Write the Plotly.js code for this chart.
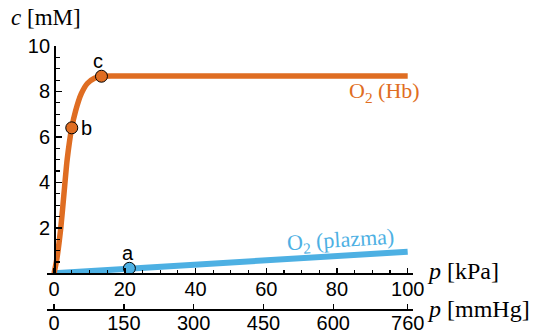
<!DOCTYPE html>
<html>
<head>
<meta charset="utf-8">
<script src="https://cdn.plot.ly/plotly-3.0.1.min.js"></script>
<style>html,body{margin:0;padding:0;background:#fff;}#chart{width:533px;height:332px;}</style>
</head>
<body>
<div id="chart"></div>
<script>
// ---- data ----
const hbP = [0, 0.75, 1.9, 2.8, 3.7, 5.0, 6.1, 7.7, 9.4, 11.4, 13.4, 17, 30, 60, 100];
const hbC = [0, 0.6, 2.0, 3.5, 5.0, 6.4, 7.15, 7.9, 8.35, 8.58, 8.67, 8.68, 8.68, 8.68, 8.68];
const plasmaP = [0, 100];
const plasmaC = [0, 0.95];
const pointLabels = ['a', 'b', 'c'];
const pointP = [21.3, 5.0, 13.4];
const pointC = [0.22, 6.4, 8.67];
const kPaTicks = [0, 20, 40, 60, 80, 100];
const mmHgTicks = [0, 150, 300, 450, 600, 760];
const cTicks = [0, 2, 4, 6, 8, 10];
const cTickText = ['', '2', '4', '6', '8', '10'];

const ORANGE = '#DF6D22';
const BLUE = '#4DB0E3';
const pointColors = [BLUE, ORANGE, ORANGE];

const xr = [-2, 101.5];
const traces = [
  {x: plasmaP, y: plasmaC, mode: 'lines', line: {color: BLUE, width: 6}, hoverinfo: 'skip', showlegend: false},
  {x: hbP, y: hbC, mode: 'lines', line: {color: ORANGE, width: 5.5, shape: 'spline', smoothing: 0.55}, hoverinfo: 'skip', showlegend: false},
  {x: pointP, y: pointC, mode: 'markers', marker: {size: 12, color: pointColors, line: {color: '#000', width: 1}}, hoverinfo: 'skip', showlegend: false},
  {x: mmHgTicks, y: mmHgTicks.map(() => null), xaxis: 'x2', mode: 'markers', hoverinfo: 'skip', showlegend: false}
];

const L = 47, W = 366, T = 46, H = 263;
const px = v => (v - L) / W;
const py = v => (T + H - v) / H;

const serif = 'Liberation Serif, Times New Roman, serif';
const annShifts = [[-1, 15], [15, 0], [-3, 15]];
const annotations = pointLabels.map((t, i) => ({
  x: pointP[i], y: pointC[i], xref: 'x', yref: 'y', text: t, showarrow: false,
  xshift: annShifts[i][0], yshift: annShifts[i][1],
  font: {family: 'Liberation Sans, Arial, sans-serif', size: 20, color: '#000'}
}));
annotations.push(
  {xref: 'paper', yref: 'paper', x: px(9), y: py(18), xanchor: 'left', yanchor: 'middle', text: '<i>c</i> [mM]', showarrow: false, font: {family: serif, size: 23, color: '#000'}},
  {xref: 'paper', yref: 'paper', x: px(425), y: py(271), xanchor: 'left', yanchor: 'middle', text: '<i>p</i> [kPa]', showarrow: false, font: {family: serif, size: 24, color: '#000'}},
  {xref: 'paper', yref: 'paper', x: px(425), y: py(309), xanchor: 'left', yanchor: 'middle', text: '<i>p</i> [mmHg]', showarrow: false, font: {family: serif, size: 24, color: '#000'}},
  {xref: 'paper', yref: 'paper', x: px(384), y: py(92), xanchor: 'center', yanchor: 'middle', text: 'O<sub>2</sub> (Hb)', showarrow: false, font: {family: serif, size: 22, color: ORANGE}},
  {xref: 'paper', yref: 'paper', x: px(340), y: py(241), xanchor: 'center', yanchor: 'middle', text: 'O<sub>2</sub> (plazma)', textangle: -3.5, showarrow: false, font: {family: serif, size: 22, color: BLUE}}
);

const tickFont = {family: 'Liberation Sans, Arial, sans-serif', size: 20, color: '#000'};
const layout = {
  width: 533, height: 332,
  margin: {l: L, r: 533 - L - W, t: T, b: 332 - T - H, pad: 0},
  paper_bgcolor: '#fff', plot_bgcolor: '#fff',
  showlegend: false, hovermode: false,
  xaxis: {
    range: xr, anchor: 'y', tickvals: kPaTicks, ticks: 'inside', ticklen: 5, tickwidth: 1.5, tickcolor: '#000',
    showline: true, linecolor: '#000', linewidth: 1.5, showgrid: false, zeroline: false, tickfont: tickFont,
    ticklabelstandoff: -3,
    minor: {dtick: 5, tick0: 0, ticks: 'inside', ticklen: 3, tickwidth: 1.2, tickcolor: '#000', showgrid: false}
  },
  xaxis2: {
    range: [xr[0] * 7.6, xr[1] * 7.6], overlaying: 'x', anchor: 'free', position: 0, side: 'bottom',
    tickvals: mmHgTicks, ticks: 'inside', ticklen: 5, tickwidth: 1.5, tickcolor: '#000',
    showline: true, linecolor: '#000', linewidth: 1.5, showgrid: false, zeroline: false, tickfont: tickFont,
    ticklabelstandoff: -5
  },
  yaxis: {
    range: [0, 10], domain: [(T + H - 273.3) / H, 1], anchor: 'free', position: -xr[0] / (xr[1] - xr[0]),
    tickvals: cTicks, ticktext: cTickText, ticks: 'inside', ticklen: 6, tickwidth: 1.5, tickcolor: '#000',
    showline: true, linecolor: '#000', linewidth: 1.5, showgrid: false, zeroline: false, tickfont: tickFont,
    minor: {dtick: 0.5, tick0: 0, ticks: 'inside', ticklen: 4, tickwidth: 1.2, tickcolor: '#000', showgrid: false}
  },
  annotations: annotations
};

Plotly.newPlot('chart', traces, layout, {displayModeBar: false, staticPlot: true});
</script>
</body>
</html>
